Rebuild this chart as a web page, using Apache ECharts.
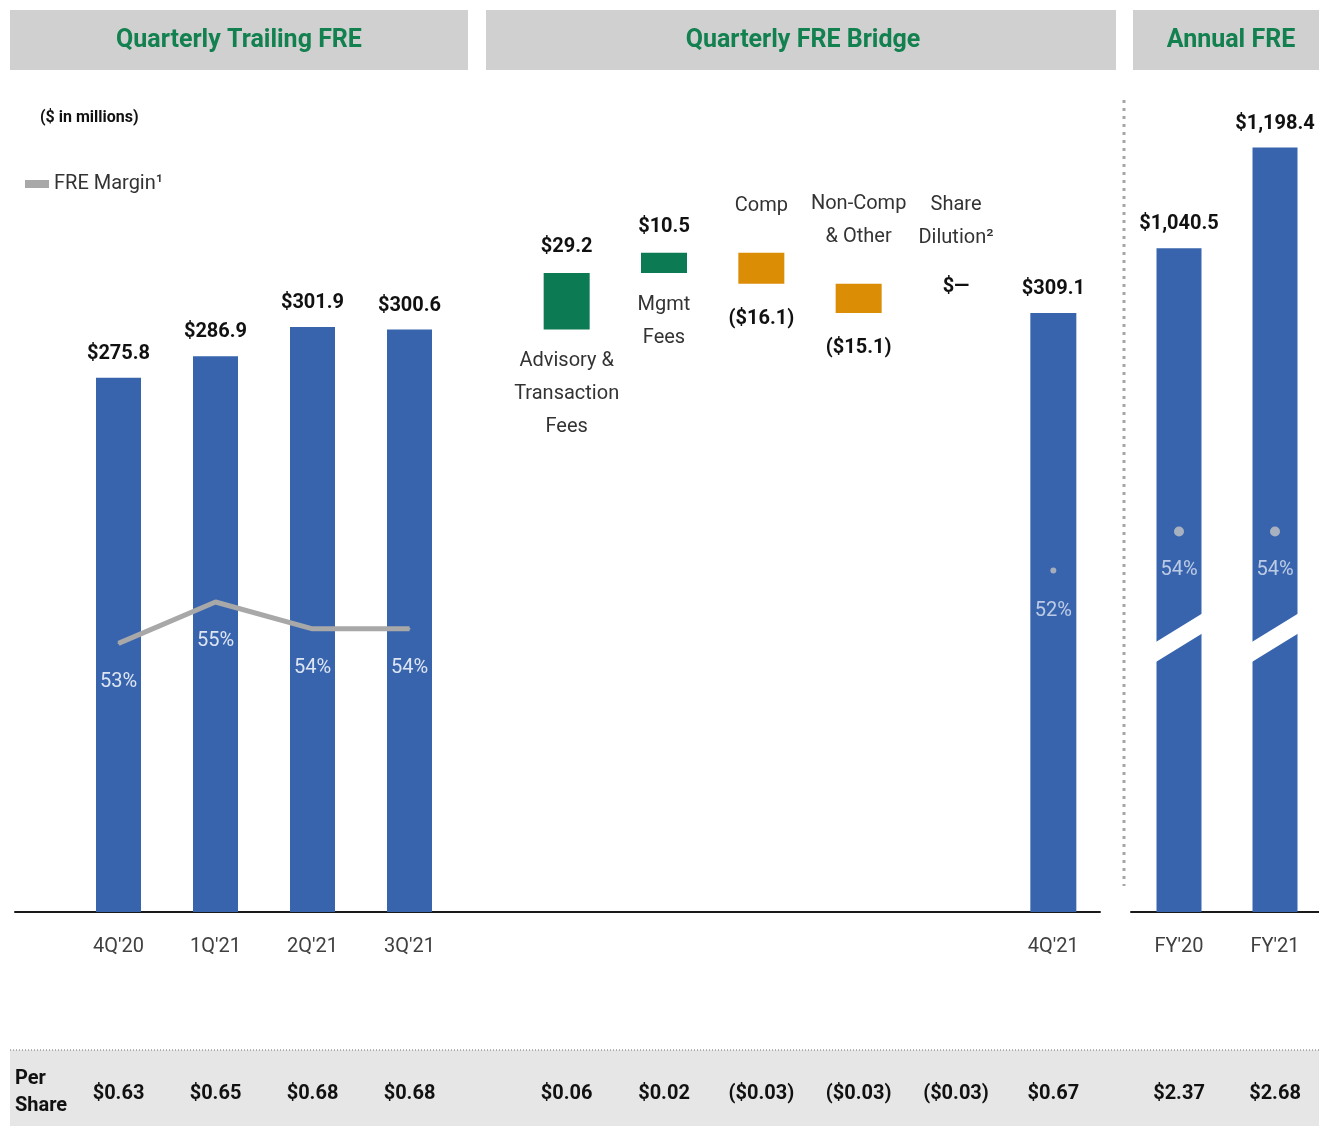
<!DOCTYPE html>
<html>
<head>
<meta charset="utf-8">
<title>FRE</title>
<script src="https://cdn.jsdelivr.net/npm/echarts@6.0.0/dist/echarts.min.js"></script>
<style>
  html, body { margin: 0; padding: 0; background: #fff; }
  #chart { width: 1319px; height: 1126px; }
</style>
</head>
<body>
<div id="chart"></div>
<script>
// quarterly trailing FRE ($ in millions)
const quarters = ["4Q'20", "1Q'21", "2Q'21", "3Q'21"];
const quarterFre = [275.8, 286.9, 301.9, 300.6];
const quarterMargin = [53.0, 55.0, 53.7, 53.7];
const quarterPerShare = ['$0.63', '$0.65', '$0.68', '$0.68'];

// bridge 3Q'21 -> 4Q'21
const bridgeNames = ['Advisory &\nTransaction\nFees', 'Mgmt\nFees', 'Comp', 'Non-Comp\n& Other', 'Share\nDilution²'];
const bridgeDeltas = [29.2, 10.5, -16.1, -15.1, 0];
const bridgeAxisLabels = ['', '', '', '', '', "4Q'21"];
const q4Fre = 309.1;
const q4Margin = 52;
const bridgePerShare = ['$0.06', '$0.02', '($0.03)', '($0.03)', '($0.03)', '$0.67'];

// annual
const years = ["FY'20", "FY'21"];
const annualFre = [1040.5, 1198.4];
const annualMargin = [54, 54];
const annualPerShare = ['$2.37', '$2.68'];
const breakLevel = 430; // where the axis-break cut is drawn on the annual bars

const F = '"Liberation Sans Narrow", Roboto, "Liberation Sans", sans-serif';
const BLUE = '#3864ad';
const GREEN = '#0c7a52';
const ORANGE = '#db8d06';
const TITLE_GREEN = '#12804f';

const fmtMoney = v => '$' + v.toLocaleString('en-US', { minimumFractionDigits: 1, maximumFractionDigits: 1 });
const fmtDelta = d => d === 0 ? '$—' : d > 0 ? fmtMoney(d) : '(' + fmtMoney(-d) + ')';
const nameLines = s => s.split('\n').map(t => '{n|' + t + '}').join('\n');

// waterfall: transparent base + visible box
let running = quarterFre[quarterFre.length - 1];
const wfBase = [];
const wfBox = [];
bridgeDeltas.forEach(d => {
  const next = running + d;
  wfBase.push({ value: Math.min(running, next), label: { distance: d < 0 ? 22 : 15 } });
  wfBox.push({
    value: Math.abs(d),
    itemStyle: { color: d >= 0 ? GREEN : ORANGE },
    label: { distance: d < 0 ? 30 : 13 }
  });
  running = next;
});
wfBase.push('-');
wfBox.push('-');
const wfTotal = bridgeDeltas.map(() => '-').concat([q4Fre]);

const rich = {
  v: { fontFamily: F, fontWeight: 'bold', fontSize: 20, color: '#111', lineHeight: 26 },
  n: { fontFamily: F, fontSize: 20, color: '#333', lineHeight: 33 },
  gap: { fontSize: 8, lineHeight: 20 }
};

const valueLabel = {
  show: true, position: 'top', distance: 14,
  fontFamily: F, fontWeight: 'bold', fontSize: 20, color: '#111',
  formatter: p => fmtMoney(p.value)
};
const pctLabel = {
  show: true, position: 'bottom', distance: 28,
  fontFamily: F, fontSize: 20, color: '#dde5f3',
  formatter: p => Math.round(p.value) + '%'
};
const catLabel = { fontFamily: F, fontSize: 20, color: '#404040', margin: 25, interval: 0 };
const psLabel = { fontFamily: F, fontSize: 20, fontWeight: 'bold', color: '#111', margin: 8, interval: 0 };

function perShareAxis(gridIndex, data) {
  return {
    type: 'category', gridIndex, data, position: 'bottom', offset: 164,
    axisLine: { show: false }, axisTick: { show: false }, axisLabel: psLabel, z: 10
  };
}

const chart = echarts.init(document.getElementById('chart'));

const option = {
  animation: false,
  backgroundColor: '#fff',
  textStyle: { fontFamily: F },
  legend: {
    data: ['FRE Margin¹'], left: 20, top: 169, icon: 'rect',
    itemWidth: 24, itemHeight: 8, itemGap: 6,
    textStyle: { fontFamily: F, fontSize: 20, color: '#333' }
  },
  grid: [
    { left: 70, width: 388, top: 137, height: 775, outerBoundsMode: 'none' },
    { left: 518, width: 584, top: 137, height: 775, outerBoundsMode: 'none' },
    { left: 1131, width: 192, top: 137, height: 775, outerBoundsMode: 'none' },
    { left: 15, width: 1085, top: 137, height: 775, outerBoundsMode: 'none' }
  ],
  xAxis: [
    { type: 'category', gridIndex: 0, data: quarters, axisLine: { show: false }, axisTick: { show: false }, axisLabel: catLabel },
    perShareAxis(0, quarterPerShare),
    { type: 'category', gridIndex: 1, data: bridgeAxisLabels, axisLine: { show: false }, axisTick: { show: false }, axisLabel: catLabel },
    perShareAxis(1, bridgePerShare),
    { type: 'category', gridIndex: 2, data: years, axisLine: { lineStyle: { color: '#1a1a1a', width: 2 } }, axisTick: { show: false }, axisLabel: catLabel },
    perShareAxis(2, annualPerShare),
    { type: 'value', gridIndex: 3, min: 0, max: 1, axisLine: { show: true, onZero: false, lineStyle: { color: '#1a1a1a', width: 2 } },
      axisTick: { show: false }, axisLabel: { show: false }, splitLine: { show: false } }
  ],
  yAxis: [
    { type: 'value', gridIndex: 0, min: 0, max: 400, show: false },
    { type: 'value', gridIndex: 0, min: 40, max: 77.5, show: false },
    { type: 'value', gridIndex: 1, min: 0, max: 400, show: false },
    { type: 'value', gridIndex: 1, min: 0, max: 118, show: false },
    { type: 'value', gridIndex: 2, min: 0, max: 1215, show: false },
    { type: 'value', gridIndex: 2, min: 0, max: 110, show: false },
    { type: 'value', gridIndex: 3, min: 0, max: 1, show: false }
  ],
  series: [
    // quarterly trailing
    { type: 'bar', xAxisIndex: 0, yAxisIndex: 0, data: quarterFre, barWidth: 45,
      itemStyle: { color: BLUE }, label: valueLabel },
    { type: 'line', name: 'FRE Margin¹', xAxisIndex: 0, yAxisIndex: 1, data: quarterMargin, z: 5,
      symbol: 'circle', symbolSize: 2, lineStyle: { width: 5, color: '#a8a8a8' },
      itemStyle: { color: '#a8a8a8' }, label: pctLabel },

    // bridge
    { type: 'bar', xAxisIndex: 2, yAxisIndex: 2, stack: 'wf', data: wfBase, barWidth: 46,
      itemStyle: { color: 'transparent' },
      label: {
        show: true, position: 'insideTop', rich,
        formatter: p => {
          const d = bridgeDeltas[p.dataIndex];
          if (d > 0) return nameLines(bridgeNames[p.dataIndex]);
          if (d < 0) return '{v|' + fmtDelta(d) + '}';
          return '';
        }
      } },
    { type: 'bar', xAxisIndex: 2, yAxisIndex: 2, stack: 'wf', data: wfBox, barWidth: 46,
      label: {
        show: true, position: 'top', rich,
        formatter: p => {
          const d = bridgeDeltas[p.dataIndex];
          if (d > 0) return '{v|' + fmtDelta(d) + '}';
          if (d < 0) return nameLines(bridgeNames[p.dataIndex]);
          return nameLines(bridgeNames[p.dataIndex]) + '\n{gap| }\n{v|' + fmtDelta(d) + '}';
        }
      } },
    { type: 'bar', xAxisIndex: 2, yAxisIndex: 2, stack: 'wf', data: wfTotal, barWidth: 46,
      itemStyle: { color: BLUE }, label: valueLabel },
    { type: 'scatter', xAxisIndex: 2, yAxisIndex: 3, z: 6, symbolSize: 6,
      data: bridgeDeltas.map(() => '-').concat([q4Margin]),
      itemStyle: { color: '#bfbfbf' }, label: pctLabel },

    // annual
    { type: 'bar', xAxisIndex: 4, yAxisIndex: 4, data: annualFre, barWidth: 45,
      itemStyle: { color: BLUE }, label: valueLabel },
    { type: 'custom', xAxisIndex: 4, yAxisIndex: 4, z: 4, silent: true,
      data: years.map(y => [y, breakLevel]),
      renderItem: (params, api) => {
        const c = api.coord([api.value(0), api.value(1)]);
        const hw = 26, rise = 16, t = 10;
        return {
          type: 'polygon',
          shape: { points: [[c[0] - hw, c[1] + rise - t], [c[0] + hw, c[1] - rise - t],
                            [c[0] + hw, c[1] - rise + t], [c[0] - hw, c[1] + rise + t]] },
          style: { fill: '#fff' }
        };
      } },
    { type: 'scatter', xAxisIndex: 4, yAxisIndex: 5, z: 6, symbolSize: 10,
      data: annualMargin, itemStyle: { color: '#c4c4c4' },
      label: Object.assign({}, pctLabel, { distance: 23 }) }
  ],
  graphic: [
    // panel headers
    { type: 'rect', left: 10, top: 10, shape: { width: 458, height: 60 }, style: { fill: '#d0d0d0' } },
    { type: 'rect', left: 486, top: 10, shape: { width: 630, height: 60 }, style: { fill: '#d0d0d0' } },
    { type: 'rect', left: 1133, top: 10, shape: { width: 186, height: 60 }, style: { fill: '#d0d0d0' } },
    { type: 'text', x: 239, y: 41, style: { text: 'Quarterly Trailing FRE', align: 'center', verticalAlign: 'middle',
      font: 'bold 25px ' + F, fill: TITLE_GREEN } },
    { type: 'text', x: 803, y: 41, style: { text: 'Quarterly FRE Bridge', align: 'center', verticalAlign: 'middle',
      font: 'bold 25px ' + F, fill: TITLE_GREEN } },
    { type: 'text', x: 1231, y: 41, style: { text: 'Annual FRE', align: 'center', verticalAlign: 'middle',
      font: 'bold 25px ' + F, fill: TITLE_GREEN } },
    { type: 'text', x: 40, y: 118, style: { text: '($ in millions)', verticalAlign: 'middle',
      font: 'bold 16px ' + F, fill: '#111' } },
    // separator before annual panel
    { type: 'line', shape: { x1: 1124, y1: 100, x2: 1124, y2: 886 },
      style: { stroke: '#a6a6a6', lineWidth: 3, lineDash: [3, 5] } },
    // per share band
    { type: 'rect', left: 10, top: 1050, z: -10, shape: { width: 1309, height: 76 }, style: { fill: '#e6e6e6' } },
    { type: 'line', z: -5, shape: { x1: 10, y1: 1050, x2: 1319, y2: 1050 },
      style: { stroke: '#9a9a9a', lineWidth: 1.5, lineDash: [1, 2] } },
    { type: 'text', x: 15, y: 1092, style: { text: 'Per\nShare', verticalAlign: 'middle', lineHeight: 27,
      font: 'bold 20px ' + F, fill: '#111' } }
  ]
};

chart.setOption(option);
</script>
</body>
</html>
